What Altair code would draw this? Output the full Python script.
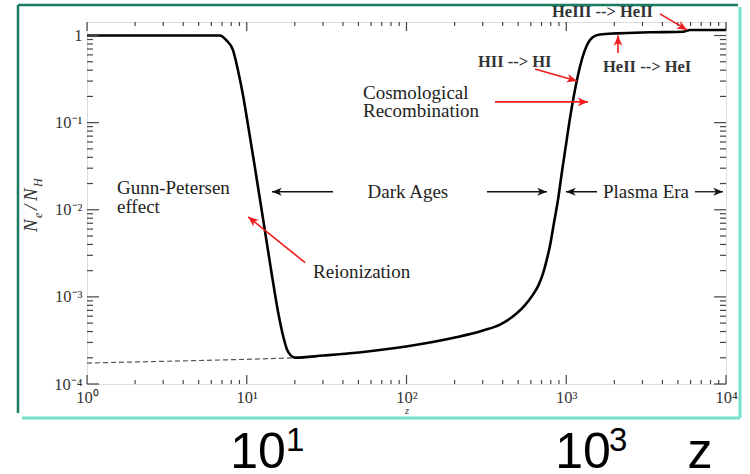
import math
import altair as alt
import pandas as pd

W, H = 639, 362
X_DOMAIN = [1, 10000]
Y_DOMAIN = [1e-4, 1.43]

# ---- main curve: free electron fraction Ne/NH vs redshift z ----
z_curve = [1, 2, 4, 6, 6.8, 7.41, 8.2, 8.81, 9.47, 10.18, 11.1, 12.11, 13.2, 14.39,
           15.69, 16.86, 17.86, 18.92, 20.05, 30, 50.4, 99.3, 201, 301, 385, 445, 492,
           552, 619, 666, 715, 758, 791, 838, 888, 940, 996, 1056, 1118, 1185, 1255,
           1349, 1471, 1627, 2078, 3344, 5381, 5952, 6870, 10000]
ne_curve = [1.0, 1.0, 1.0, 1.0, 1.0, 0.89, 0.68, 0.40, 0.208, 0.0943, 0.0355, 0.01303,
            4.78e-3, 1.75e-3, 6.78e-4, 3.6e-4, 2.49e-4, 2.12e-4, 2.01e-4, 2.12e-4,
            2.3e-4, 2.69e-4, 3.41e-4, 4.11e-4, 4.81e-4, 5.64e-4, 6.52e-4, 8.05e-4,
            1.062e-3, 1.329e-3, 1.848e-3, 2.746e-3, 3.87e-3, 7.1e-3, 0.01303, 0.0273,
            0.0556, 0.1134, 0.208, 0.353, 0.538, 0.779, 0.962, 1.027, 1.06, 1.089, 1.106,
            1.157, 1.157, 1.157]

# dashed extension (no reionization)
z_dash = [1, 5, 10, 20]
ne_dash = [1.74e-4, 1.86e-4, 1.92e-4, 2.0e-4]

# ---- axis ticks and labels ----
x_major = [1, 10, 100, 1000, 10000]
x_major_labels = ["10⁰", "10¹", "10²", "10³", "10⁴"]
y_major = [1e-4, 1e-3, 1e-2, 1e-1, 1]
y_major_labels = ["10⁻⁴", "10⁻³", "10⁻²", "10⁻¹", "1"]
x_minor = [m * 10 ** k for k in range(4) for m in range(2, 10)]
y_minor = [m * 10.0 ** k for k in range(-4, 0) for m in range(2, 10)]

# ---- annotations ----
note_text = ["Gunn-Petersen", "effect", "Cosmological", "Recombination", "Reionization"]
note_z = [1.54, 1.54, 53.4, 53.4, 26]
note_v = [0.01788, 0.0108, 0.2194, 0.1365, 1.95e-3]

era_text = ["Dark Ages", "Plasma Era"]
era_z = [102, 3157]
era_v = [0.0161, 0.0161]

trans_text = ["HII --> HI", "HeII --> HeI", "HeIII --> HeII"]
trans_z = [280, 1699, 814]
trans_v = [0.497, 0.435, 1.86]

black_z1 = [34.7, 319, 1559, 6394]
black_z2 = [14.4, 757, 996, 9575]
black_v = [0.0161, 0.0161, 0.0161, 0.0161]

red_z1 = [358, 637, 2109, 3864, 23.2]
red_v1 = [0.173, 0.413, 0.63, 1.77, 2.47e-3]
red_z2 = [1368, 1167, 2109, 5702, 10.2]
red_v2 = [0.173, 0.301, 1.0, 1.16, 8.3e-3]

big_text = ["10", "10", "z"]
big_z = [11.76, 1273, 6870]
sup_text = ["1", "3"]
sup_z = [17.6, 1852]


def px(z):
    return math.log10(z) / 4 * W


def py(v):
    top = math.log10(Y_DOMAIN[1])
    return (top - math.log10(v)) / (top + 4) * H


def angles(z1, v1, z2, v2):
    return [math.degrees(math.atan2(py(b2) - py(b1), px(a2) - px(a1))) % 360
            for a1, b1, a2, b2 in zip(z1, v1, z2, v2)]


xs = alt.Scale(type="log", domain=X_DOMAIN, nice=False)
ys = alt.Scale(type="log", domain=Y_DOMAIN, nice=False)

SERIF = "Liberation Serif"
AXC = "#444444"


def label_expr(vals, labels):
    parts = [f"datum.value == {v!r} ? '{l}'" for v, l in zip(vals, labels)]
    return " : ".join(parts) + " : ''"


x_axis = alt.Axis(values=x_major, labelExpr=label_expr(x_major, x_major_labels),
                  ticks=False, domain=False, grid=False, labelFlush=False,
                  labelOverlap=False, labelFont=SERIF, labelFontSize=16.5,
                  labelColor="#333333", labelPadding=5, title="z",
                  titleFont=SERIF, titleFontStyle="italic", titleFontWeight="normal",
                  titleFontSize=10.5, titleColor="#444444", titlePadding=0)
y_axis = alt.Axis(values=y_major, labelExpr=label_expr(y_major, y_major_labels),
                  ticks=False, domain=False, grid=False, labelFlush=False,
                  labelOverlap=False, labelFont=SERIF, labelFontSize=16.5,
                  labelColor="#333333", labelPadding=5, title=None)


def X(field):
    return alt.X(field, scale=xs, axis=x_axis)


def Y(field):
    return alt.Y(field, scale=ys, axis=y_axis)


curve_df = pd.DataFrame({"z": z_curve, "ne": ne_curve})
curve = alt.Chart(curve_df).mark_line(color="black", strokeWidth=2.6,
                                      interpolate="monotone").encode(
    x=X("z:Q"), y=Y("ne:Q"))

dash = alt.Chart(pd.DataFrame({"z": z_dash, "ne": ne_dash})).mark_line(
    color="#555555", strokeWidth=1.2, strokeDash=[5, 3]).encode(
    x=X("z:Q"), y=Y("ne:Q"))


def xticks(vals, y0, y1):
    return alt.Chart(pd.DataFrame({"t": vals})).mark_rule(
        color=AXC, strokeWidth=1.2).encode(
        x=X("t:Q"), y=alt.value(y0), y2=alt.value(y1))


def yticks(vals, x0, x1):
    return alt.Chart(pd.DataFrame({"t": vals})).mark_rule(
        color=AXC, strokeWidth=1.2).encode(
        y=Y("t:Q"), x=alt.value(x0), x2=alt.value(x1))


ticks = [
    xticks(x_minor, H, H - 4), xticks(x_major, H, H - 9),
    xticks(x_minor, 0, 4), xticks(x_major, 0, 9),
    yticks(y_minor, 0, 6), yticks(y_major, 0, 12),
    yticks(y_minor, W, W - 6), yticks(y_major, W, W - 12),
]

notes = alt.Chart(pd.DataFrame({"z": note_z, "v": note_v, "t": note_text})).mark_text(
    font=SERIF, fontSize=19, align="left", baseline="middle", color="#222222").encode(
    x=X("z:Q"), y=Y("v:Q"), text="t:N")

eras = alt.Chart(pd.DataFrame({"z": era_z, "v": era_v, "t": era_text})).mark_text(
    font=SERIF, fontSize=19, align="center", baseline="middle", color="#222222").encode(
    x=X("z:Q"), y=Y("v:Q"), text="t:N")

trans = alt.Chart(pd.DataFrame({"z": trans_z, "v": trans_v, "t": trans_text})).mark_text(
    font=SERIF, fontSize=16.5, fontWeight="bold", align="left", baseline="middle",
    color="#333333").encode(
    x=X("z:Q"), y=Y("v:Q"), text="t:N")

HEAD = "M0,0L-1,-0.42L-0.72,0L-1,0.42Z"


def arrows(z1, v1, z2, v2, color, width, size):
    df = pd.DataFrame({"z1": z1, "v1": v1, "z2": z2, "v2": v2,
                       "a": angles(z1, v1, z2, v2)})
    line = alt.Chart(df).mark_rule(color=color, strokeWidth=width).encode(
        x=X("z1:Q"), y=Y("v1:Q"), x2="z2:Q", y2="v2:Q")
    head = alt.Chart(df).mark_point(shape=HEAD, filled=True, color=color, opacity=1,
                                    size=size, strokeWidth=0.5).encode(
        x=X("z2:Q"), y=Y("v2:Q"), angle=alt.Angle("a:Q", scale=None))
    return [line, head]


black_arr = arrows(black_z1, black_v, black_z2, black_v, "#111111", 1.3, 380)
red_arr = arrows(red_z1, red_v1, red_z2, red_v2, "#ee1c1c", 1.6, 420)

big = alt.Chart(pd.DataFrame({"z": big_z, "t": big_text})).mark_text(
    font="Liberation Sans", fontSize=50, align="center", baseline="alphabetic",
    color="black").encode(
    x=X("z:Q"), y=alt.value(446), text="t:N")
sup = alt.Chart(pd.DataFrame({"z": sup_z, "t": sup_text})).mark_text(
    font="Liberation Sans", fontSize=33, align="left", baseline="alphabetic",
    color="black").encode(
    x=X("z:Q"), y=alt.value(429), text="t:N")

# y-axis title N_e / N_H drawn as rotated pieces (text, size, x, y)
ylab_pieces = [("N", 19, -50, 210), ("e", 12, -45, 196), ("/", 19, -50, 188),
               ("N", 19, -50, 179), ("H", 12, -45, 165)]
ylab_layers = []
for txt, fs, xx, yy in ylab_pieces:
    ylab_layers.append(
        alt.Chart(pd.DataFrame({"t": [txt]})).mark_text(
            font=SERIF, fontSize=fs, fontStyle="italic", angle=270, align="left",
            baseline="alphabetic", color="#333333").encode(
            x=alt.value(xx), y=alt.value(yy), text="t:N"))

DG = "#1b7a62"
TQ = "#74e0cb"


def frame(x0, x1, y0, y1, color, w):
    return alt.Chart(pd.DataFrame({"k": [0]})).mark_rule(
        color=color, strokeWidth=w).encode(
        x=alt.value(x0), x2=alt.value(x1), y=alt.value(y0), y2=alt.value(y1))


frames = [
    frame(-69, -69, -17, 391, DG, 2.5),
    frame(-69, 651, -17, -17, DG, 2.5),
    frame(653, 653, -15, 396, TQ, 3),
    frame(-65, 653, 396, 396, TQ, 3),
]

chart = alt.layer(
    curve, dash, *ticks, notes, eras, trans, *black_arr, *red_arr, big, sup,
    *ylab_layers, *frames
).properties(
    width=W, height=H,
    autosize=alt.AutoSizeParams(type="none"),
    padding={"left": 87, "top": 22, "right": 24, "bottom": 90},
).configure_view(stroke=AXC, strokeWidth=1.5).configure(background="white")

chart.save("out.html", embed_options={"renderer": "svg", "actions": False})
